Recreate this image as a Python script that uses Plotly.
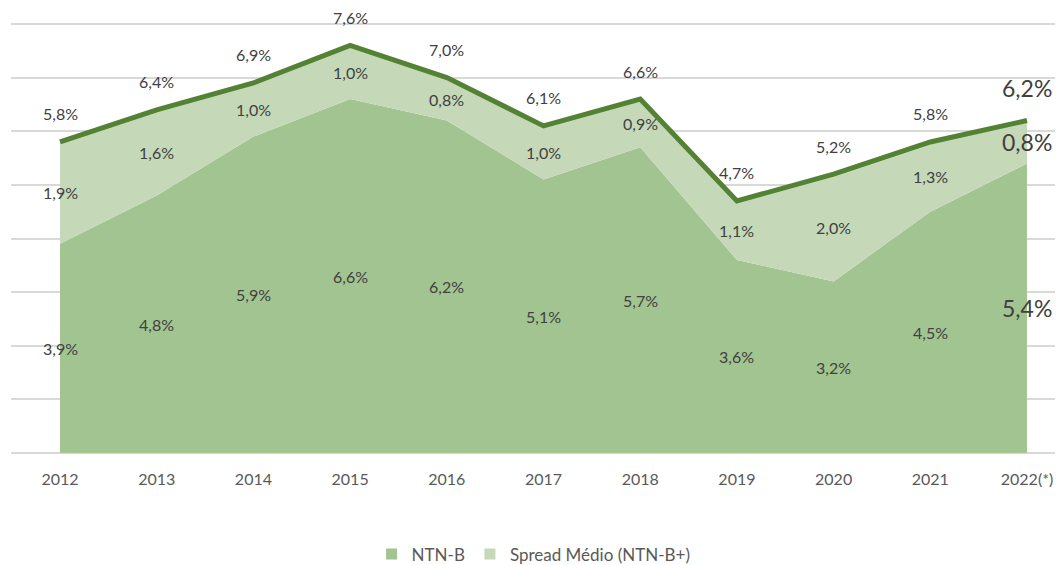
import plotly.graph_objects as go

years = ["2012", "2013", "2014", "2015", "2016", "2017", "2018", "2019", "2020", "2021", "2022(*)"]
ntnb = [3.9, 4.8, 5.9, 6.6, 6.2, 5.1, 5.7, 3.6, 3.2, 4.5, 5.4]
spread = [1.9, 1.6, 1.0, 1.0, 0.8, 1.0, 0.9, 1.1, 2.0, 1.3, 0.8]
total = [5.8, 6.4, 6.9, 7.6, 7.0, 6.1, 6.6, 4.7, 5.2, 5.8, 6.2]
series_names = ["NTN-B", "Spread Médio (NTN-B+)"]

C_NTNB = "#A2C490"
C_SPREAD = "#C5D9B9"
C_LINE = "#548235"
C_GRID = "#D9D9D9"
FONT = "Lato"

def fmt(v):
    return f"{v:.1f}%".replace(".", ",")

fig = go.Figure()
fig.add_trace(go.Scatter(x=years, y=ntnb, name=series_names[0], stackgroup="s", mode="none",
                         fillcolor=C_NTNB, line=dict(width=0), hoverinfo="skip", showlegend=False))
fig.add_trace(go.Scatter(x=years, y=spread, name=series_names[1], stackgroup="s", mode="none",
                         fillcolor=C_SPREAD, line=dict(width=0), hoverinfo="skip", showlegend=False))
fig.add_trace(go.Scatter(x=years, y=total, mode="lines", line=dict(color=C_LINE, width=5),
                         showlegend=False, hoverinfo="skip"))
# legend entries with square swatches
for name, col in zip(series_names, [C_NTNB, C_SPREAD]):
    fig.add_trace(go.Scatter(x=[None], y=[None], mode="markers", name=name,
                             marker=dict(symbol="square", size=11, color=col)))

n = len(years)
for i in range(n):
    last = i == n - 1
    fs = 23 if last else 16
    fig.add_annotation(x=i, y=ntnb[i] / 2, text=fmt(ntnb[i]), showarrow=False,
                       font=dict(family=FONT, size=fs, color="#404040"))
    fig.add_annotation(x=i, y=ntnb[i] + spread[i] / 2, text=fmt(spread[i]), showarrow=False,
                       font=dict(family=FONT, size=fs, color="#404040"))
    fig.add_annotation(x=i, y=total[i], text=fmt(total[i]), showarrow=False,
                       yshift=33 if last else 28,
                       font=dict(family=FONT, size=fs, color="#404040"))

# top gridline (8%) drawn explicitly so it is never clipped at the range edge
fig.add_shape(type="line", xref="paper", x0=0, x1=1, yref="y", y0=8, y1=8,
              line=dict(color=C_GRID, width=2), layer="above")

fig.update_layout(
    width=1063, height=565,
    margin=dict(l=3, r=0, t=13, b=118),
    plot_bgcolor="white", paper_bgcolor="white",
    font=dict(family=FONT, color="#595959"),
    showlegend=True,
    legend=dict(orientation="h", x=0.493, xanchor="center", y=-0.235, yanchor="middle",
                font=dict(family=FONT, size=17, color="#595959"), traceorder="normal",
                itemwidth=30),
    xaxis=dict(type="category", range=[-0.507, 10.455], showgrid=False, zeroline=False,
               showline=False, ticks="", tickfont=dict(family=FONT, size=16, color="#595959"),
               ticklabelstandoff=15, automargin=False),
    yaxis=dict(range=[0, 8.056], dtick=1, showgrid=True, gridcolor=C_GRID, gridwidth=2,
               showticklabels=False, zeroline=True, zerolinecolor=C_GRID, zerolinewidth=2,
               showline=False, automargin=False),
)

fig.write_html("out.html")
